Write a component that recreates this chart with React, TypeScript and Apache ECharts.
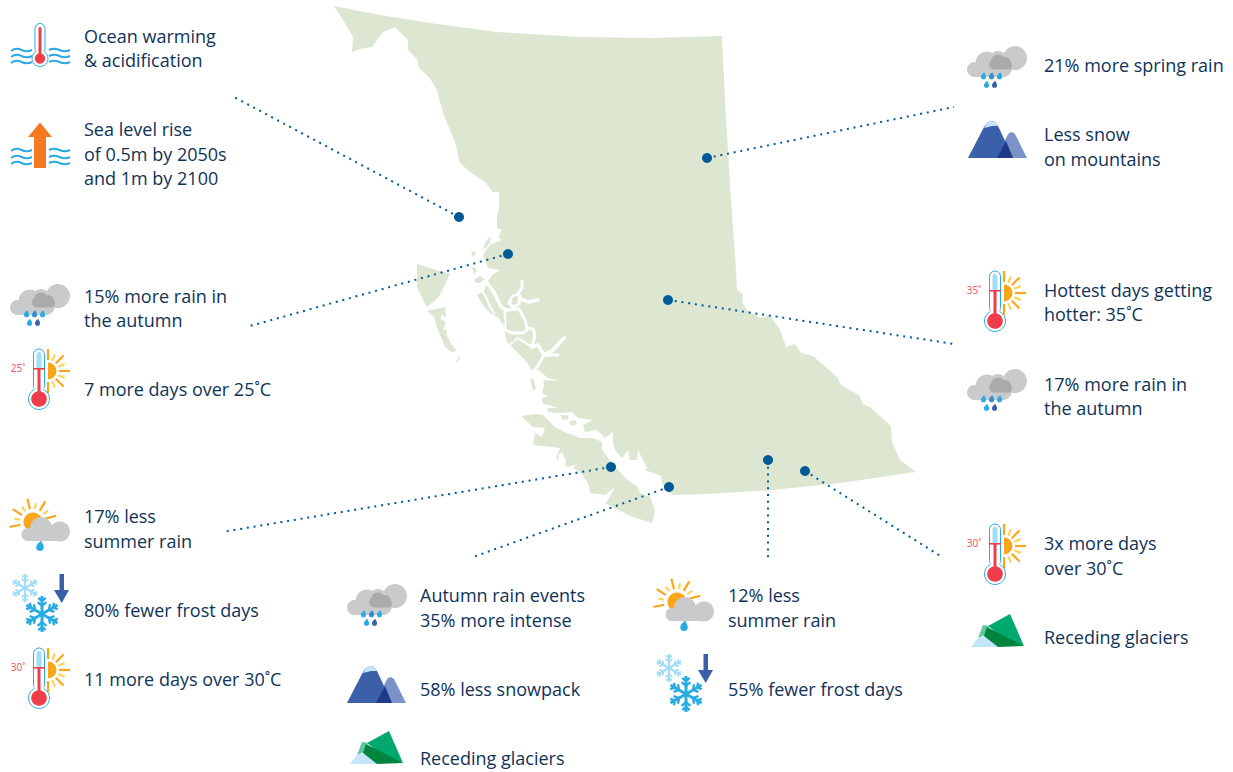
import React, { useEffect, useRef } from "react";
import * as echarts from "echarts";

type P = number[];

// ---------- map outlines (in picture units) ----------
const mainland: P[] = [
  [334,6],[380,15],[430,23],[497,32],[580,37],[650,38],[722,36],[726,120],[731,200],[736,270],[737,290],[743,295],[742,302],[747,310],[760,318],[770,315],[780,330],[786,347],[795,344],[801,353],[813,356],[837,377],[841,385],[859,395],[863,404],[870,407],[891,426],[892,442],[900,460],[916,472],[840,483],[773,490],[707,494],[673,495],[665,490],[662,483],[661,476],
  [645,470],[647,468],[638,450],[637,460],[630,460],[628,450],[622,458],[615,450],[613,442],[613,432],[605,438],[597,430],[585,432],[583,425],[593,420],[578,418],[572,412],[560,413],[547,412],[548,408],[558,408],[542,403],[542,398],[548,396],[542,393],[544,385],[543,380],[561,381],[548,378],[538,370],
  [533,372],[527,362],[507,342],[503,325],[498,317],[491,314],[483,305],[477,295],[484,291],[486,284],[492,275],[500,270],[488,268],[483,255],[490,245],[502,240],[498,237],[502,230],[497,228],[497,217],[499,208],[499,192],[493,192],[485,182],[470,172],[460,163],[455,142],[443,113],[437,90],[429,77],[419,68],[417,59],[408,50],[408,40],[395,27],[383,32],[372,47],[360,49],[352,52],[353,37],[343,20],
];
const vancouverIsland: P[] = [
  [521,416],[537,414],[543,415],[555,427],[567,433],[580,438],[593,438],[602,442],[602,450],[612,463],[627,480],[637,486],[640,493],[650,497],[655,510],[652,523],[630,516],[605,503],[608,500],[615,487],[605,495],[590,493],[588,483],[580,472],[573,468],[577,464],[568,467],[556,458],[560,448],[552,447],[533,445],[535,433],[542,437],[545,428],[533,427],
];
const grahamIsland: P[] = [[417,264],[430,268],[442,272],[450,273],[445,285],[438,298],[427,307],[423,300],[417,287]];
const moresbyIsland: P[] = [[427,311],[445,307],[446,317],[441,315],[441,319],[446,322],[443,330],[447,330],[446,334],[452,345],[457,351],[452,352],[445,347],[438,330],[434,317]];
const islets: P[][] = [
  [[456,362],[459,355],[460,358],[458,362]],
  [[483,248],[487,240],[491,237],[490,243],[485,249]],
  [[471,253],[474,251],[476,254],[473,257]],
  [[472,268],[475,267],[477,271],[474,274]],
  [[474,280],[480,276],[485,279],[480,283],[476,283]],
  [[530,379],[533,378],[536,388],[533,391]],
];
const landShapes: P[][] = [mainland, vancouverIsland, grahamIsland, moresbyIsland, ...islets];

const channels: P[][] = [
  [[487,283],[494,292],[501,307],[506,310]],
  [[482,291],[486,297],[490,307],[494,313]],
  [[522,281],[522,288],[517,295],[513,296],[509,303],[513,307],[519,304],[520,296]],
  [[519,298],[528,302],[538,300]],
  [[507,310],[519,309],[525,320],[527,328],[533,329],[535,335],[532,347]],
  [[505,312],[505,330],[512,333],[523,333],[527,330]],
  [[507,347],[518,338],[532,347]],
  [[532,347],[538,345],[544,355],[553,350],[564,338]],
  [[544,355],[558,355]],
  [[544,355],[537,367],[533,372]],
];
const channelWidths = [3.5, 2.2, 3, 3.5, 3, 2.8, 2.2, 3.5, 3, 3];
const channelLenses: P[][] = [
  [[512,299],[515,296],[518,298],[517,303],[513,304]],
  [[506,314],[510,313],[511,317],[508,319]],
  [[502,319],[504,318],[505,324],[502,323]],
  [[510,337],[513,336],[514,342],[511,342]],
  [[527,337],[530,335],[531,342],[528,343]],
  [[569,421],[575,420],[577,424],[571,426]],
  [[560,415],[567,415],[569,419],[563,420]],
];
const water: P[][] = [
  [[558,455],[562,452],[566,460],[565,466],[560,464]],
  [[576,478],[580,478],[580,482],[577,482]],
  [[552,415],[572,414],[583,426],[584,433],[572,432],[560,425]],
];

// ---------- leaders and sites ----------
const leaderFrom: P[] = [[234,97],[250,326],[954,107],[954,344],[222,532],[473,557],[768,558],[942,557]];
const sites: P[] = [[459,217],[508,254],[707,158],[668,300],[611,467],[669,487],[768,460],[805,471]];

// ---------- text ----------
const labelsLeft: [string, number][] = [["Ocean warming",36],["& acidification",60],["Sea level rise",129],["of 0.5m by 2050s",154],["and 1m by 2100",178],["15% more rain in",296],["the autumn",320],["7 more days over 25˚C",389],["17% less",516],["summer rain",541],["80% fewer frost days",610],["11 more days over 30˚C",679]];
const labelsMidA: [string, number][] = [["Autumn rain events",595],["35% more intense",620],["58% less snowpack",689],["Receding glaciers",758]];
const labelsMidB: [string, number][] = [["12% less",595],["summer rain",620],["55% fewer frost days",689]];
const labelsRight: [string, number][] = [["21% more spring rain",65],["Less snow",134],["on mountains",159],["Hottest days getting",290],["hotter: 35˚C",314],["17% more rain in",384],["the autumn",408],["3x more days",543],["over 30˚C",568],["Receding glaciers",637]];

const INK = "#0f3358";
const SKY = "#29abe2";
const PALE = "#a3dcf6";
const RED = "#ef3e4a";
const SUN = "#f9a61a";
const SUN2 = "#fcd35f";
const GREY = "#c9cacc";
const GREY2 = "#a9aaac";
const ROYAL = "#3b5fa8";

echarts.graphic.registerShape("drop", echarts.graphic.extendPath("M0.8 -4.4 C1.6 -2.6 3 -1 3 0.9 A3 3 0 0 1 -3 0.9 C-3 -1.2 -0.6 -3 0.8 -4.4Z", {}));
echarts.graphic.registerShape("wave", echarts.graphic.extendPath("M0 1 C3.5 -1.5 7 -1.8 10.5 0 C14 1.8 17 2 21 0 M38 0 C41.5 -1.8 45 -1.5 48.5 0 C52 1.8 55.5 1.8 59 0", {}));

const c = (cx: number, cy: number, r: number, fill: string) => ({ type: "circle", shape: { cx, cy, r }, style: { fill } });
const r = (x: number, y: number, width: number, height: number, fill: string, rad: any = 0) => ({ type: "rect", shape: { x, y, width, height, r: rad }, style: { fill } });
const poly = (points: number[][], fill: string) => ({ type: "polygon", shape: { points }, style: { fill } });
const seg = (x1: number, y1: number, x2: number, y2: number, stroke: string, lineWidth: number) => ({ type: "line", shape: { x1, y1, x2, y2 }, style: { stroke, lineWidth, lineCap: "butt" } });
const waves = (y: number) => ({ type: "wave", x: 0, y, style: { fill: "none", stroke: SKY, lineWidth: 2 } });

function rainCloud(x: number, y: number) {
  const drop = (dx: number, dy: number, fill: string) => ({ type: "drop", x: dx, y: dy, scaleX: 0.85, scaleY: 0.85, style: { fill } });
  return { type: "group", x, y, children: [
    c(7.5,22.5,7.5,GREY), c(20,16,11.5,GREY), c(36,21,9,GREY), r(7,20,30,10,GREY),
    c(31,13,9,GREY), c(48,11,12,GREY), r(30,12,20,10.5,GREY),
    r(22,13,23,9.5,GREY2,[5,6,4,6]), c(31,14.5,7,GREY2), c(38,16,6,GREY2),
    drop(16.5,29,SKY), drop(24.5,29,"#2f8fd0"), drop(32.5,29,SKY), drop(19.5,37.5,SKY), drop(27.5,37.5,ROYAL),
  ] };
}

function rays(cx: number, cy: number, a0: number, a1: number, n: number, inner: number, outer: number, outer2: number, w: number) {
  const out: any[] = [];
  for (let i = 0; i < n; i++) {
    const a = ((a0 + ((a1 - a0) * i) / (n - 1)) * Math.PI) / 180;
    const odd = i % 2 === 1;
    const o = odd ? outer2 : outer;
    out.push(seg(cx + inner * Math.cos(a), cy + inner * Math.sin(a), cx + o * Math.cos(a), cy + o * Math.sin(a), odd ? SUN2 : SUN, w));
  }
  return out;
}

function thermoSun(x: number, top: number, deg: string) {
  return { type: "group", x, y: top, children: [
    { type: "text", style: { text: deg, x: -21, y: 19, fill: "#ee5a64", font: "10px 'Noto Sans'", align: "center", verticalAlign: "middle" } },
    ...rays(9,22,-90,90,9,11,22,18,2.2),
    { type: "sector", shape: { cx: 9, cy: 22, r0: 0, r: 8.5, startAngle: -Math.PI / 2, endAngle: Math.PI / 2 }, style: { fill: SUN } },
    { type: "rect", shape: { x: -5.5, y: 0, width: 11, height: 42, r: 5.5 }, style: { fill: "#fff", stroke: SKY, lineWidth: 1 } },
    { type: "circle", shape: { cx: 0, cy: 50, r: 10.5 }, style: { fill: "#fff", stroke: SKY, lineWidth: 1 } },
    r(-4.6,36,9.2,10,"#fff"),
    r(-2.5,3,5,17,PALE,[2.5,2.5,0,0]),
    r(-1.5,20,3,26,RED), r(-6,19,12,1.6,RED),
    c(0,50,7.8,RED),
  ] };
}

function thermoOcean() {
  return { type: "group", x: 11, y: 0, children: [
    waves(50), waves(56), waves(62),
    { type: "rect", shape: { x: 24, y: 23.5, width: 10, height: 30, r: 5 }, style: { fill: "#fff", stroke: SKY, lineWidth: 1 } },
    { type: "circle", shape: { cx: 29, cy: 58.5, r: 8 }, style: { fill: "#fff", stroke: SKY, lineWidth: 1 } },
    r(25,48,8,6,"#fff"),
    r(27.5,27,3,28,RED,[1.5,1.5,0,0]),
    c(29,58.5,5.2,RED),
  ] };
}

function seaArrow() {
  return { type: "group", x: 11, y: 0, children: [
    waves(150), waves(157), waves(163),
    poly([[29,122.5],[41,137],[35,137],[35,168],[23,168],[23,137],[17,137]], "#f47920"),
  ] };
}

function sunCloud(dx: number, dy: number) {
  return { type: "group", x: dx, y: dy, children: [
    ...rays(33,522,-192,-15,9,13,24,19,2.2),
    c(33,522,9.5,SUN),
    c(28,534.5,6.5,GREY), c(41,528,11,GREY), c(60,531.5,10,GREY), r(28,530,33,11,GREY),
    { type: "drop", x: 40, y: 546, scaleX: 1.25, scaleY: 1.25, style: { fill: SKY } },
  ] };
}

function flake(cx: number, cy: number, R: number, w: number, color: string) {
  const out: any[] = [];
  for (let k = 0; k < 6; k++) {
    const a = ((90 + 60 * k) * Math.PI) / 180;
    const px = cx + R * Math.cos(a), py = cy + R * Math.sin(a);
    out.push(seg(cx, cy, px, py, color, w));
    for (const f of [0.45, 0.72]) {
      const mx = cx + R * f * Math.cos(a), my = cy + R * f * Math.sin(a);
      const b = R * (f === 0.45 ? 0.32 : 0.27);
      for (const s of [-1, 1]) {
        const a2 = a + (s * 50 * Math.PI) / 180;
        out.push(seg(mx, my, mx + b * Math.cos(a2), my + b * Math.sin(a2), color, w * 0.8));
      }
    }
  }
  return out;
}

function frost(dx: number, dy: number) {
  return { type: "group", x: dx, y: dy, children: [
    ...flake(25,588,14,2.2,PALE),
    ...flake(42,614,18,3,SKY),
    r(59.5,574,4.5,17,ROYAL),
    poly([[54,590],[69,590],[61.7,603]], ROYAL),
  ] };
}

function mountain(x: number, y: number) {
  return { type: "group", x, y, children: [
    poly([[29,37],[39,15],[41,12],[44,11],[47,13],[49,17],[59,37]], "#7b93c9"),
    poly([[0,37],[16,6],[19,2],[23,0],[27,1],[30,5],[45,37]], ROYAL),
    poly([[16,7],[19,2],[23,0],[27,1],[30,5],[24,5],[20,6]], "#c4e6f8"),
    poly([[29,37],[38,20],[45,37]], "#1f3a8c"),
  ] };
}

function glacier(x: number, y: number) {
  return { type: "group", x, y, children: [
    poly([[17,12],[39,0],[53,32],[30,22]], "#00a96e"),
    poly([[7,24],[12,11],[18,12],[14,21]], "#5fc7a2"),
    poly([[0,33],[7,24],[13,22],[27,33]], "#c4e6f8"),
    poly([[16,13],[53,32],[27,33],[13,22]], "#00853f"),
  ] };
}

const textItems = (items: [string, number][], x: number) =>
  items.map(([text, y]) => ({ type: "text", x, y, style: { text, fill: INK, font: "18px 'Open Sans'", verticalAlign: "middle", align: "left" } }));

export default function App() {
  const ref = useRef<HTMLDivElement>(null);
  useEffect(() => {
    const chart = echarts.init(ref.current!, undefined, { renderer: "svg" });
    const polyItem = (shapes: P[][], fill: string) => (params: any, api: any) => ({
      type: "polygon",
      shape: { points: shapes[params.dataIndex].map((p) => api.coord(p)) },
      style: { fill },
    });
    const channelItem = (params: any, api: any) => ({
      type: "polyline",
      shape: { points: channels[params.dataIndex].map((p) => api.coord(p)) },
      style: { fill: "none", stroke: "#fff", lineWidth: channelWidths[params.dataIndex], lineJoin: "round", lineCap: "round" },
    });
    chart.setOption({
      animation: false,
      backgroundColor: "#fff",
      grid: { left: 0, right: 0, top: 0, bottom: 0 },
      xAxis: { type: "value", min: 0, max: 1233, show: false },
      yAxis: { type: "value", min: 0, max: 772, inverse: true, show: false },
      tooltip: { show: false },
      series: [
        { type: "custom", name: "land", data: landShapes.map((s) => s[0]), renderItem: polyItem(landShapes, "#dde6d1"), silent: true, z: 1, clip: false },
        { type: "custom", name: "water", data: water.map((s) => s[0]), renderItem: polyItem(water, "#fff"), silent: true, z: 2, clip: false },
        { type: "custom", name: "channels", data: channels.map((s) => s[0]), renderItem: channelItem, silent: true, z: 2, clip: false },
        { type: "custom", name: "lenses", data: channelLenses.map((s) => s[0]), renderItem: polyItem(channelLenses, "#dde6d1"), silent: true, z: 2, clip: false },
        ...leaderFrom.map((from, i) => ({
          type: "line", data: [sites[i], from], showSymbol: false, silent: true, z: 3,
          lineStyle: { color: "#005a96", width: 2, type: [2, 4.8], cap: "butt" },
        })),
        { type: "scatter", data: sites, symbol: "circle", symbolSize: 10, itemStyle: { color: "#005a96", opacity: 1 }, silent: true, z: 4 },
      ],
      graphic: { elements: [
        thermoOcean(), seaArrow(),
        rainCloud(10,285), rainCloud(967,47), rainCloud(967,370), rainCloud(347,585),
        thermoSun(39,349,"25˚"), thermoSun(995,271,"35˚"), thermoSun(39,648,"30˚"), thermoSun(995,524,"30˚"),
        sunCloud(0,0), sunCloud(644,80),
        frost(0,0), frost(644,80),
        mountain(347,666), mountain(968,121),
        glacier(350,731), glacier(971,614),
        ...textItems(labelsLeft,84), ...textItems(labelsMidA,420), ...textItems(labelsMidB,728), ...textItems(labelsRight,1044),
      ] },
    });
    return () => chart.dispose();
  }, []);
  return <div ref={ref} style={{ position: "absolute", left: 0, top: 0, width: 1233, height: 772 }} />;
}
